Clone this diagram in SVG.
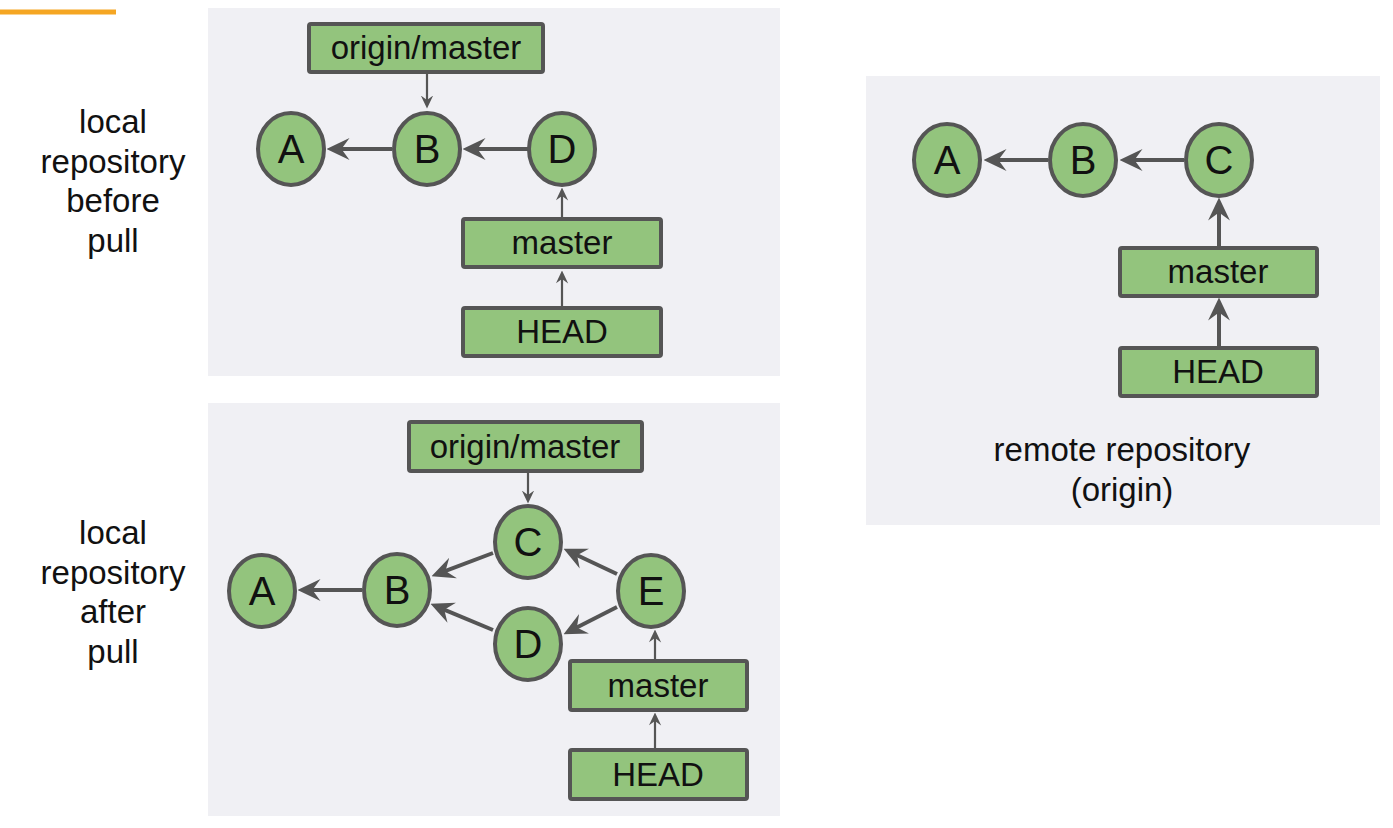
<svg xmlns="http://www.w3.org/2000/svg" width="1393" height="828" viewBox="0 0 1393 828">
<style>
.panel{fill:#f0f0f4}
.node ellipse{fill:#93c47d;stroke:#555;stroke-width:4}
.node rect{fill:#93c47d;stroke:#555;stroke-width:4}
.lt{font-family:"Liberation Sans",Arial,sans-serif;font-size:40px;fill:#111;text-anchor:middle}
.rt{font-family:"Liberation Sans",Arial,sans-serif;font-size:33px;fill:#111;text-anchor:middle}
.lab{font-family:"Liberation Sans",Arial,sans-serif;font-size:33px;fill:#111;text-anchor:middle}
.thick{stroke:#555;stroke-width:4;fill:none;marker-end:url(#big)}
.thin{stroke:#555;stroke-width:2.2;fill:none;marker-end:url(#small)}
</style>
<defs>
<marker id="big" viewBox="0 0 20 20" refX="10" refY="10" markerWidth="23" markerHeight="23" markerUnits="userSpaceOnUse" orient="auto">
<path d="M0,0.5 L20,10 L0,19.5 L7,10 z" fill="#555"/>
</marker>
<marker id="small" viewBox="0 0 20 20" refX="10" refY="10" markerWidth="13" markerHeight="13" markerUnits="userSpaceOnUse" orient="auto">
<path d="M0,0.5 L20,10 L0,19.5 L7,10 z" fill="#555"/>
</marker>
</defs>
<rect x="0" y="0" width="1393" height="828" fill="#fff"/>
<rect x="0" y="9.5" width="116" height="5" fill="#f5a623"/>
<rect class="panel" x="208" y="8" width="572" height="368"/>
<rect class="panel" x="208" y="403" width="572" height="413"/>
<rect class="panel" x="866" y="76" width="514" height="449"/>

<g id="labels">
<text class="lab" x="113" y="133">local</text>
<text class="lab" x="113" y="173">repository</text>
<text class="lab" x="113" y="212">before</text>
<text class="lab" x="113" y="252">pull</text>
<text class="lab" x="113" y="544">local</text>
<text class="lab" x="113" y="584">repository</text>
<text class="lab" x="113" y="623">after</text>
<text class="lab" x="113" y="663">pull</text>
<text class="lab" x="1122" y="461">remote repository</text>
<text class="lab" x="1122" y="501">(origin)</text>
</g>

<g id="connectors">
<line class="thick" x1="392" y1="149" x2="338" y2="149"/>
<line class="thick" x1="528" y1="149" x2="474" y2="149"/>
<line class="thin" x1="427" y1="73" x2="427" y2="102"/>
<line class="thin" x1="562" y1="217" x2="562" y2="194"/>
<line class="thin" x1="562" y1="306" x2="562" y2="277"/>

<line class="thick" x1="362" y1="590" x2="309" y2="590"/>
<line class="thick" x1="493" y1="553" x2="442.3" y2="572.1"/>
<line class="thick" x1="493" y1="630" x2="441.1" y2="608.3"/>
<line class="thick" x1="617" y1="574" x2="574" y2="553.7"/>
<line class="thick" x1="617" y1="607" x2="573.8" y2="629"/>
<line class="thin" x1="528" y1="472" x2="528" y2="497"/>
<line class="thin" x1="655" y1="659" x2="655" y2="636"/>
<line class="thin" x1="655" y1="748" x2="655" y2="719"/>

<line class="thick" x1="1048" y1="160" x2="995" y2="160"/>
<line class="thick" x1="1184" y1="160" x2="1131" y2="160"/>
<line class="thick" x1="1219" y1="246" x2="1219" y2="209"/>
<line class="thick" x1="1219" y1="346" x2="1219" y2="309"/>
</g>

<g id="p1-origin-master" class="node"><rect x="309" y="24" width="234" height="48" rx="2"/><text class="rt" x="426" y="59">origin/master</text></g>
<g id="p1-A" class="node"><ellipse cx="291" cy="149" rx="33" ry="36"/><text class="lt" x="291" y="163">A</text></g>
<g id="p1-B" class="node"><ellipse cx="427" cy="149" rx="33" ry="36"/><text class="lt" x="427" y="163">B</text></g>
<g id="p1-D" class="node"><ellipse cx="562" cy="149" rx="33" ry="36"/><text class="lt" x="562" y="163">D</text></g>
<g id="p1-master" class="node"><rect x="463" y="219" width="198" height="48" rx="2"/><text class="rt" x="562" y="254">master</text></g>
<g id="p1-HEAD" class="node"><rect x="463" y="308" width="198" height="48" rx="2"/><text class="rt" x="562" y="343">HEAD</text></g>

<g id="p2-origin-master" class="node"><rect x="409" y="422" width="233" height="49" rx="2"/><text class="rt" x="525" y="458">origin/master</text></g>
<g id="p2-A" class="node"><ellipse cx="262" cy="591" rx="33" ry="36"/><text class="lt" x="262" y="605">A</text></g>
<g id="p2-B" class="node"><ellipse cx="397" cy="590" rx="33" ry="36"/><text class="lt" x="397" y="604">B</text></g>
<g id="p2-C" class="node"><ellipse cx="528" cy="542" rx="33" ry="36"/><text class="lt" x="528" y="556">C</text></g>
<g id="p2-D" class="node"><ellipse cx="528" cy="644" rx="33" ry="36"/><text class="lt" x="528" y="658">D</text></g>
<g id="p2-E" class="node"><ellipse cx="651" cy="591" rx="33" ry="36"/><text class="lt" x="651" y="605">E</text></g>
<g id="p2-master" class="node"><rect x="570" y="661" width="177" height="49" rx="2"/><text class="rt" x="658" y="697">master</text></g>
<g id="p2-HEAD" class="node"><rect x="570" y="750" width="177" height="49" rx="2"/><text class="rt" x="658" y="786">HEAD</text></g>

<g id="p3-A" class="node"><ellipse cx="947" cy="160" rx="33" ry="36"/><text class="lt" x="947" y="174">A</text></g>
<g id="p3-B" class="node"><ellipse cx="1083" cy="160" rx="33" ry="36"/><text class="lt" x="1083" y="174">B</text></g>
<g id="p3-C" class="node"><ellipse cx="1219" cy="160" rx="33" ry="36"/><text class="lt" x="1219" y="174">C</text></g>
<g id="p3-master" class="node"><rect x="1120" y="248" width="197" height="48" rx="2"/><text class="rt" x="1218" y="283">master</text></g>
<g id="p3-HEAD" class="node"><rect x="1120" y="348" width="197" height="48" rx="2"/><text class="rt" x="1218" y="383">HEAD</text></g>
</svg>
